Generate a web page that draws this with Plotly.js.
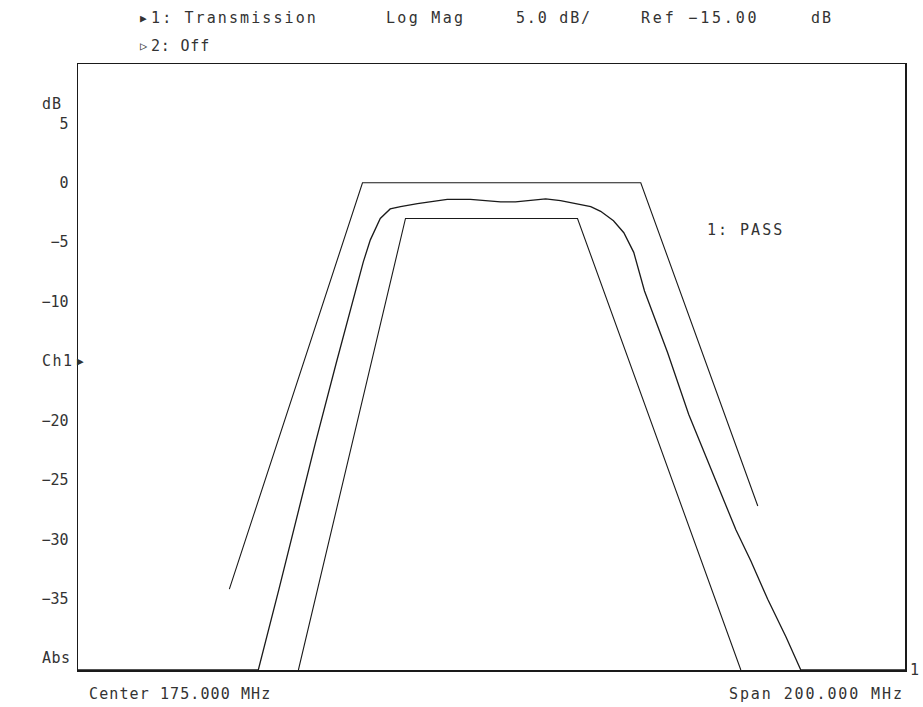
<!DOCTYPE html>
<html>
<head>
<meta charset="utf-8">
<script src="https://cdn.plot.ly/plotly-3.0.1.min.js"></script>
<style>html,body{margin:0;padding:0;background:#fff;}#chart{width:923px;height:707px;}</style>
</head>
<body>
<div id="chart"></div>
<script>
// Measured transmission trace (frequency in MHz, magnitude in dB)
const traceFreq = [75, 118.6, 123.6, 127.4, 132.4, 137.5, 142.1, 144.0, 145.7, 148.1, 150.5, 153.0, 157.1, 164.3, 169.9, 177.2, 180.8, 184.4, 188.1, 191.7, 195.8, 199.0, 201.4, 204.5, 207.0, 209.4, 212.0, 214.7, 217.6, 222.7, 228.5, 234.1, 237.7, 241.8, 246.2, 249.8, 275];
const traceDb   = [-41, -41, -34.2, -28.8, -21.9, -15.1, -9.1, -6.65, -4.8, -3.0, -2.2, -2.0, -1.75, -1.4, -1.4, -1.6, -1.6, -1.45, -1.35, -1.5, -1.75, -2.0, -2.4, -3.2, -4.2, -5.85, -9.1, -11.6, -14.3, -19.5, -24.4, -29.2, -31.8, -35.05, -38.2, -41, -41];
// Upper limit line
const upperFreq = [111.6, 143.8, 211.1, 239.4];
const upperDb   = [-34.2, 0, 0, -27.2];
// Lower limit line
const lowerFreq = [128.3, 154.2, 195.8, 235.3];
const lowerDb   = [-41, -3, -3, -41];
// Axes
const xRange = [75, 275];
const yRange = [-41, 10];
const yTickVals = [5, 0, -5, -10, -15, -20, -25, -30, -35, -40];
const yTickText = ['5', '0', '−5', '−10', '', '−20', '−25', '−30', '−35', ''];

const FONT = 'DejaVu Sans Mono, Liberation Mono, monospace';
const INK = '#1a1a1a';
const TXT = '#333333';
const L = 78, R = 905, T = 64, B = 670, W = 923, H = 707;
const px = x => (x - L) / (R - L);
const py = y => (B - y) / (B - T);
const sp = (s, n) => '<span style="letter-spacing:' + n + 'px">' + s + '</span>';

const data = [
  {x: upperFreq, y: upperDb, mode: 'lines', line: {color: INK, width: 1.1}, hoverinfo: 'skip'},
  {x: lowerFreq, y: lowerDb, mode: 'lines', line: {color: INK, width: 1.1}, hoverinfo: 'skip'},
  {x: traceFreq, y: traceDb, mode: 'lines', line: {color: INK, width: 1.3}, hoverinfo: 'skip'}
];

const tf = (s) => ({family: FONT, size: s, color: TXT});
const ann = (text, x, y, xanchor, size) => ({text, xref: 'paper', yref: 'paper', x: px(x), y: py(y), xanchor, yanchor: 'middle', showarrow: false, font: tf(size || 15)});

const annotations = [
  ann('<span style="font-size:11px">▶</span>', 138, 18, 'left'),
  ann(sp('1: Transmission', 2.1), 149, 18, 'left'),
  ann(sp('Log Mag', 2.3), 384, 18, 'left'),
  ann(sp('5.0 dB/', 1.8), 514, 18, 'left'),
  ann(sp('Ref −15.00', 2.8), 639, 18, 'left'),
  ann(sp('dB', 2), 809, 18, 'left'),
  ann('<span style="font-size:12px">▷</span>', 138, 46, 'left'),
  ann(sp('2: Off', 0.8), 149, 46, 'left'),
  ann(sp('dB', 1), 40, 104, 'left'),
  ann(sp('Center 175.000 MHz', 1.1), 87, 694, 'left'),
  ann(sp('Span 200.000 MHz', 1.9), 906, 694, 'right'),
  ann('1', 908, 670, 'left', 15),
  {text: sp('Ch1', 1.5), xref: 'paper', yref: 'y', x: px(40), y: -15, xanchor: 'left', yanchor: 'middle', showarrow: false, font: tf(15)},
  {text: '▶', xref: 'paper', yref: 'y', x: px(75), y: -15, xanchor: 'left', yanchor: 'middle', showarrow: false, font: tf(11)},
  {text: sp('Abs', 0.5), xref: 'paper', yref: 'y', x: px(40), y: -40, xanchor: 'left', yanchor: 'middle', showarrow: false, font: tf(15)},
  {text: sp('1: PASS', 2), xref: 'x', yref: 'y', x: 236.5, y: -4, xanchor: 'center', yanchor: 'middle', showarrow: false, font: tf(15)}
];

const layout = {
  width: W, height: H,
  margin: {l: L, r: W - R, t: T, b: H - B, pad: 0},
  paper_bgcolor: '#fff', plot_bgcolor: '#fff',
  showlegend: false,
  xaxis: {range: xRange, showgrid: false, zeroline: false, showticklabels: false, ticks: '',
          showline: true, mirror: true, linecolor: INK, linewidth: 1.5},
  yaxis: {range: yRange, showgrid: false, zeroline: false, ticks: '', tickvals: yTickVals, ticktext: yTickText,
          tickfont: tf(15), ticklabelstandoff: 5,
          showline: true, mirror: true, linecolor: INK, linewidth: 1.5},
  annotations
};
Plotly.newPlot('chart', data, layout, {staticPlot: true, displayModeBar: false});
</script>
</body>
</html>
